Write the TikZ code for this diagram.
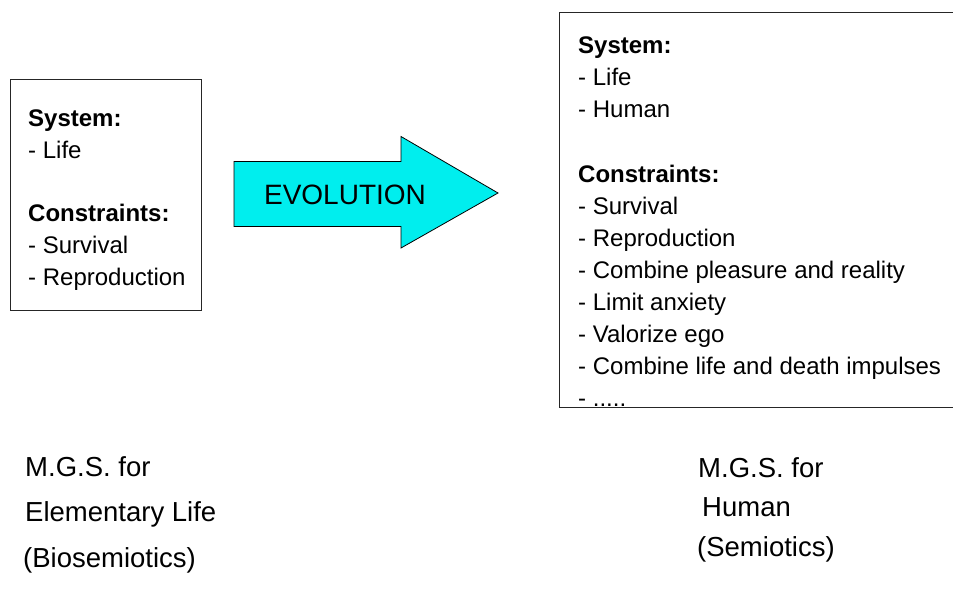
\documentclass[tikz,border=0pt]{standalone}
\usepackage{fontspec}
\setmainfont{Liberation Sans}
\usetikzlibrary{positioning}
\definecolor{evocyan}{RGB}{0,238,238}
\tikzset{
  listbox/.style={draw=black!85, line width=1pt, inner sep=0pt, anchor=north west},
  listtext/.style={anchor=north west, align=left, inner sep=0pt, font=\fontsize{24}{32}\selectfont},
  caption/.style={anchor=base west, inner sep=0pt, font=\fontsize{27.5}{33}\selectfont}
}

\begin{document}
\begin{tikzpicture}[x=1pt, y=-1pt]
\useasboundingbox (0,0) rectangle (953,604);
% elementary life
\node[listbox, minimum width=191pt, minimum height=230pt] (lifebox) at (9.5,79.5) {};
\node[listtext] (lifetext) at (28,110) {\textbf{System:}\\- Life\\[31pt]\textbf{Constraints:}\\- Survival\\- Reproduction};
% evolution arrow
\filldraw[fill=evocyan, draw=black, line width=0.8pt] (234,161.5) -- (401,161.5) -- (401,136.5) -- (498,193) -- (401,248) -- (401,226.5) -- (234,226.5) -- cycle;
\node[inner sep=0pt, font=\fontsize{28}{33}\selectfont] (evolabel) at (345,195) {EVOLUTION};
% human
\node[listbox, minimum width=420pt, minimum height=394.5pt] (humanbox) at (558.5,12.5) {};
\node[listtext] (humantext) at (578,37) {\textbf{System:}\\- Life\\- Human\\[33pt]\textbf{Constraints:}\\- Survival\\- Reproduction\\- Combine pleasure and reality\\- Limit anxiety\\- Valorize ego\\- Combine life and death impulses\\- .....};
% captions
\node[caption] (mgsleft) at (25,476) {M.G.S. for};
\node[caption] (elemlife) at (25,521) {Elementary Life};
\node[caption] (biosemio) at (23,567) {(Biosemiotics)};
\node[caption] (mgsright) at (698,477) {M.G.S. for};
\node[caption] (humanlbl) at (702,516) {Human};
\node[caption] (semio) at (697,556) {(Semiotics)};
\end{tikzpicture}
\end{document}
